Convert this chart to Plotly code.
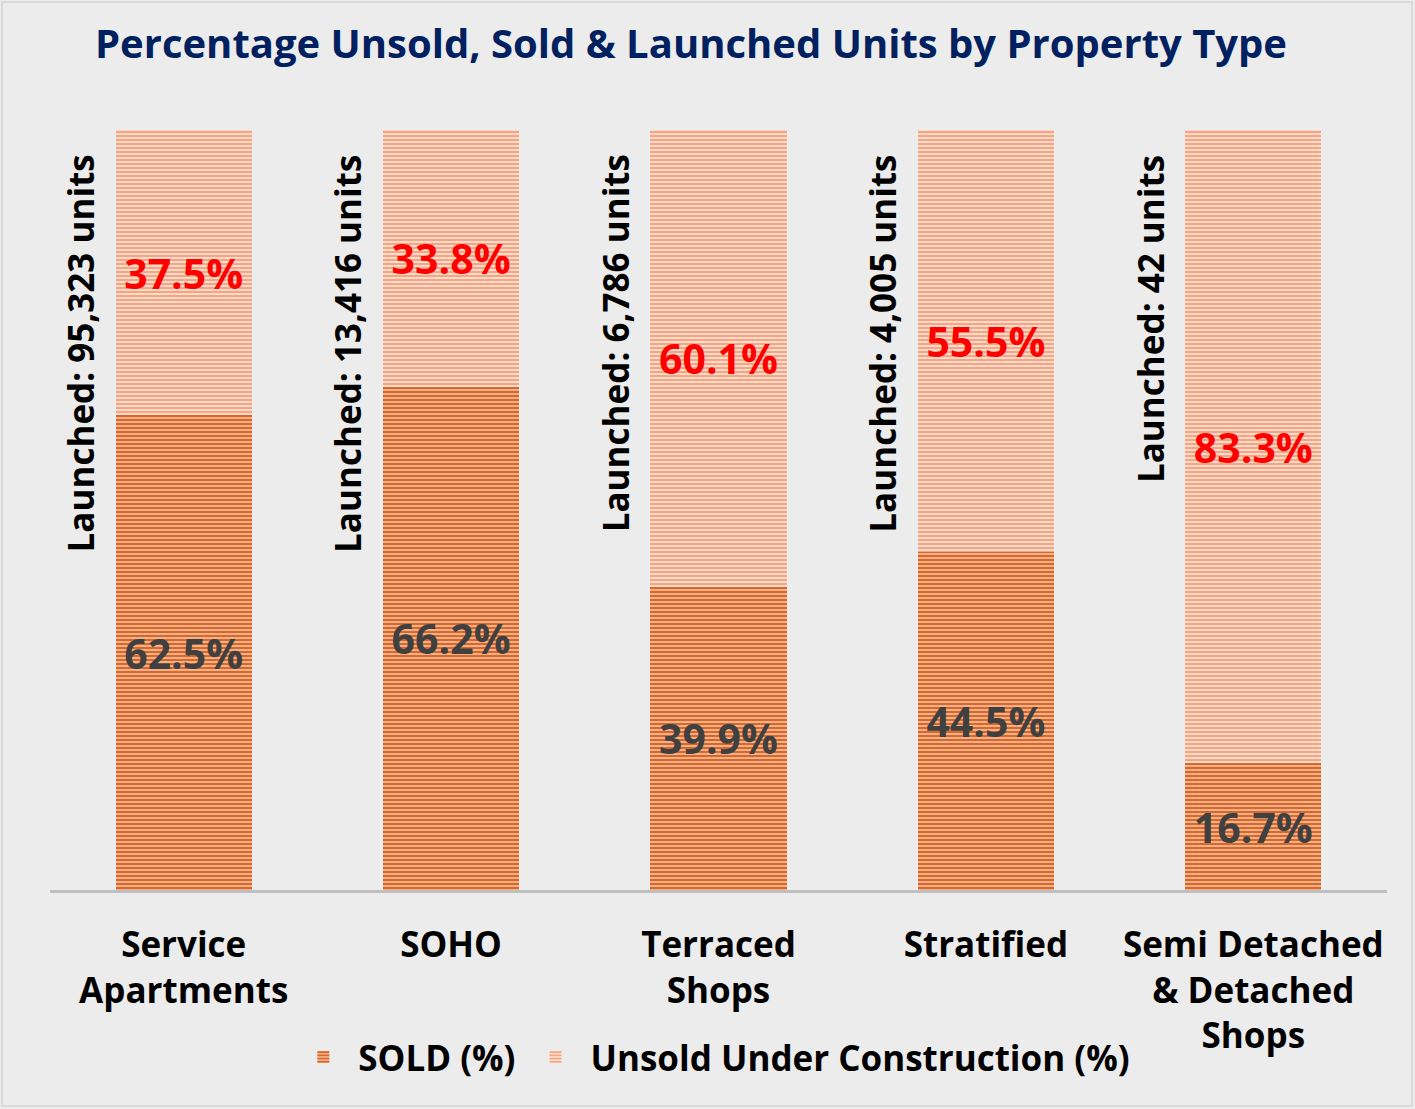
import plotly.graph_objects as go

categories = ["Service<br>Apartments", "SOHO", "Terraced<br>Shops", "Stratified",
              "Semi Detached<br>& Detached<br>Shops"]
sold_pct = [62.5, 66.2, 39.9, 44.5, 16.7]
unsold_pct = [37.5, 33.8, 60.1, 55.5, 83.3]
launched_units = ["95,323", "13,416", "6,786", "4,005", "42"]

FONT = "Open Sans"
W, H = 1415, 1109
ML, MR, MT, MB = 50, 28, 130, 219

fig = go.Figure()
fig.add_trace(go.Bar(
    x=categories, y=sold_pct, name="SOLD (%)",
    text=[f"{v:.1f}%" for v in sold_pct],
    textposition="inside", insidetextanchor="middle",
    textfont=dict(family=FONT, size=41, color="#404040", weight="bold"),
    marker=dict(color="#f7c9a9", line=dict(width=0),
                pattern=dict(shape="-", fgcolor="#d9672a", bgcolor="#f7c4a2",
                             size=4, solidity=0.6, fillmode="replace")),
    cliponaxis=False,
))
fig.add_trace(go.Bar(
    x=categories, y=unsold_pct, name="Unsold Under Construction (%)",
    text=[f"{v:.1f}%" for v in unsold_pct],
    textposition="inside", insidetextanchor="middle",
    textfont=dict(family=FONT, size=41, color="#ff0000", weight="bold"),
    marker=dict(color="#fcdccb", line=dict(width=0),
                pattern=dict(shape="-", fgcolor="#f4a585", bgcolor="#fde0cf",
                             size=4, solidity=0.55, fillmode="replace")),
))

for cat, units in zip(categories, launched_units):
    fig.add_annotation(
        x=cat, y=97.0, xref="x", yref="y",
        text=f"<b>Launched: {units} units</b>", textangle=-90,
        showarrow=False, xanchor="center", yanchor="top", xshift=-103,
        font=dict(family=FONT, size=35, color="#000000"),
    )

pw = W - ML - MR
ph = H - MT - MB
fig.add_shape(type="rect", xref="paper", yref="paper",
              x0=(2 - ML) / pw, x1=(W - 3 - ML) / pw,
              y0=(H - 3 - (H - MB)) / -ph, y1=(H - MB - 2) / ph,
              line=dict(color="#d9d9d9", width=2), fillcolor="rgba(0,0,0,0)", layer="below")

fig.update_layout(
    width=W, height=H,
    margin=dict(l=ML, r=MR, t=MT, b=MB),
    paper_bgcolor="#ececec", plot_bgcolor="#ececec",
    barmode="stack", bargap=0.49,
    title=dict(text="<b>Percentage Unsold, Sold & Launched Units by Property Type</b>",
               xref="container", x=691 / W, xanchor="center", y=1 - 44 / H, yanchor="middle",
               font=dict(family=FONT, size=40, color="#002060")),
    xaxis=dict(showgrid=False, showline=True, linecolor="#bfbfbf", linewidth=3,
               ticks="", tickfont=dict(family=FONT, size=35, color="#000000", weight="bold"),
               ticklabelstandoff=22),
    yaxis=dict(range=[0, 100], visible=False, showgrid=False),
    legend=dict(orientation="h", x=0.495, xanchor="center", y=-0.22, yanchor="middle",
                font=dict(family=FONT, size=35, color="#000000", weight="bold"),
                bgcolor="rgba(0,0,0,0)", itemwidth=60, traceorder="normal"),
    showlegend=True,
)

fig.write_html("out.html", config={"displayModeBar": False},
               post_script="document.body.style.margin='0';")
